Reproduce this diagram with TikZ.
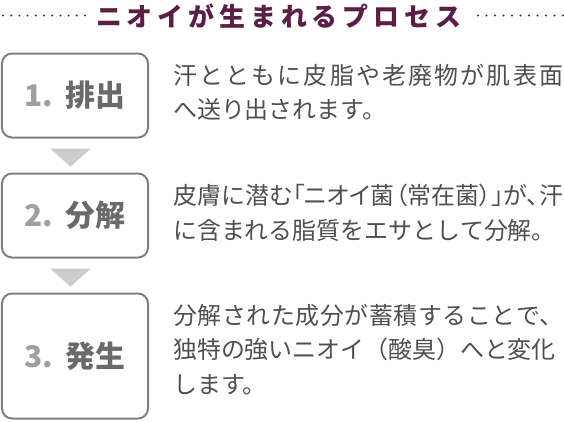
\documentclass[tikz,border=0pt]{standalone}
\usepackage{fontspec}
\setmainfont{Noto Sans CJK JP}
\usetikzlibrary{positioning,calc}
\definecolor{plum}{HTML}{5A1E47}
\definecolor{boxgray}{HTML}{808080}
\definecolor{numgray}{HTML}{A0A0A0}
\definecolor{labelgray}{HTML}{6A6A6A}
\definecolor{bodygray}{HTML}{4F4F4F}
\definecolor{arrowgray}{HTML}{CCCCCC}
\XeTeXlinebreaklocale "ja"
\XeTeXlinebreakskip=0pt plus 4pt
\newcommand{\tightline}[1]{{\addfontfeature{RawFeature=+palt}#1}}
\newcommand{\steplabel}[2]% number, word
{{\color{numgray}#1}\hspace{13bp}{\color{labelgray}#2}}

\begin{document}
\begin{tikzpicture}[x=1bp,y=-1bp]
\tikzstyle{stepbox}=[draw=boxgray,line width=2bp,rounded corners=10bp,minimum width=146bp,minimum height=84bp,inner sep=0pt,font=\fontsize{30}{30}\selectfont\bfseries]
\tikzstyle{desc}=[anchor=north west,inner sep=0pt,text width=390bp,align=justify,text=bodygray,font=\fontsize{24}{34.5}\selectfont]
\useasboundingbox (0,0) rectangle (564,421);

% title with dotted rules
\draw (96,16) node[anchor=west,inner sep=0pt,text=plum,font=\fontsize{26}{26}\selectfont\bfseries\addfontfeature{LetterSpace=19}] (title) {ニオイが生まれるプロセス};
\foreach \i in {0,...,10} \fill[plum] (3+8.2*\i,15.5) circle (1.1);
\foreach \i in {0,...,10} \fill[plum] (478+8.5*\i,15.5) circle (1.1);

% step boxes
\draw (75,95.5) node[stepbox] (b1) {\steplabel{1.}{排出}}; % step 1
\draw (75,215.5) node[stepbox] (b2) {\steplabel{2.}{分解}}; % step 2
\draw (75,356) node[stepbox,minimum height=125bp] (b3) {\steplabel{3.}{発生}}; % step 3

% down markers
\fill[arrowgray] ($(b1.south)+(-25,10)$) -- ++(41,0) -- ($(b1.south)+(-4.5,28)$) -- cycle;
\fill[arrowgray] ($(b2.south)+(-25,10)$) -- ++(41,0) -- ($(b2.south)+(-4.5,28)$) -- cycle;

% descriptions
\draw (173,64) node[desc] (d1) {汗とともに皮脂や老廃物が肌表面\linebreak へ送り出されます。};
\draw (173,184) node[desc] (d2) {\tightline{皮膚に潜む「ニオイ菌（常在菌）」が、汗}\linebreak に含まれる脂質をエサとして分解。};
\draw (173,304) node[desc] (d3) {分解された成分が蓄積することで、\linebreak 独特の強いニオイ（酸臭）へと変化\newline します。};
\end{tikzpicture}
\end{document}
